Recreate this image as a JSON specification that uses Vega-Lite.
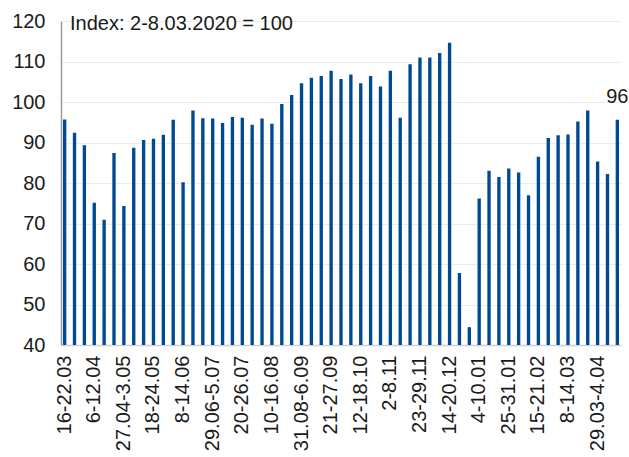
{
  "$schema": "https://vega.github.io/schema/vega-lite/v6.json",
  "autosize": {"type": "none"},
  "width": 560,
  "height": 324,
  "padding": {"left": 61, "top": 21, "right": 8, "bottom": 112},
  "background": "white",
  "config": {
    "view": {"stroke": null},
    "font": "Liberation Sans",
    "title": {"font": "Liberation Sans", "fontSize": 20, "fontWeight": "normal", "color": "#1a1a1a"}
  },
  "title": {"text": "Index: 2-8.03.2020 = 100", "anchor": "start", "frame": "group", "dx": 9, "offset": -39, "baseline": "alphabetic"},
  "data": {"values": [
    {"week": "16-22.03", "value": 95.7},
    {"week": "23-29.03", "value": 92.4},
    {"week": "30.03-5.04", "value": 89.3},
    {"week": "6-12.04", "value": 75.1},
    {"week": "13-19.04", "value": 70.9},
    {"week": "20-26.04", "value": 87.4},
    {"week": "27.04-3.05", "value": 74.3},
    {"week": "4-10.05", "value": 88.7},
    {"week": "11-17.05", "value": 90.6},
    {"week": "18-24.05", "value": 90.9},
    {"week": "25-31.05", "value": 91.9},
    {"week": "1-7.06", "value": 95.6},
    {"week": "8-14.06", "value": 80.2},
    {"week": "15-21.06", "value": 97.9},
    {"week": "22-28.06", "value": 96.0},
    {"week": "29.06-5.07", "value": 95.9},
    {"week": "6-12.07", "value": 94.8},
    {"week": "13-19.07", "value": 96.3},
    {"week": "20-26.07", "value": 96.1},
    {"week": "27.07-2.08", "value": 94.4},
    {"week": "3-9.08", "value": 95.9},
    {"week": "10-16.08", "value": 94.6},
    {"week": "17-23.08", "value": 99.5},
    {"week": "24-30.08", "value": 101.7},
    {"week": "31.08-6.09", "value": 104.6},
    {"week": "7-13.09", "value": 106.0},
    {"week": "14-20.09", "value": 106.4},
    {"week": "21-27.09", "value": 107.7},
    {"week": "28.09-4.10", "value": 105.7},
    {"week": "5-11.10", "value": 106.8},
    {"week": "12-18.10", "value": 104.6},
    {"week": "19-25.10", "value": 106.4},
    {"week": "26.10-1.11", "value": 103.8},
    {"week": "2-8.11", "value": 107.7},
    {"week": "9-15.11", "value": 96.1},
    {"week": "16-22.11", "value": 109.3},
    {"week": "23-29.11", "value": 111.0},
    {"week": "30.11-6.12", "value": 111.0},
    {"week": "7-13.12", "value": 112.1},
    {"week": "14-20.12", "value": 114.6},
    {"week": "21-27.12", "value": 57.8},
    {"week": "28.12-3.01", "value": 44.4},
    {"week": "4-10.01", "value": 76.2},
    {"week": "11-17.01", "value": 83.0},
    {"week": "18-24.01", "value": 81.5},
    {"week": "25-31.01", "value": 83.6},
    {"week": "1-7.02", "value": 82.6},
    {"week": "8-14.02", "value": 77.0},
    {"week": "15-21.02", "value": 86.5},
    {"week": "22-28.02", "value": 91.1},
    {"week": "1-7.03", "value": 91.8},
    {"week": "8-14.03", "value": 92.0},
    {"week": "15-21.03", "value": 95.2},
    {"week": "22-28.03", "value": 97.9},
    {"week": "29.03-4.04", "value": 85.3},
    {"week": "5-11.04", "value": 82.2},
    {"week": "12-18.04", "value": 95.6, "label": "96"}
  ]},
  "encoding": {
    "x": {
      "field": "week", "type": "ordinal", "sort": null,
      "scale": {"paddingInner": 0.66, "paddingOuter": 0.2},
      "axis": {
        "title": null,
        "values": ["16-22.03", "6-12.04", "27.04-3.05", "18-24.05", "8-14.06", "29.06-5.07", "20-26.07", "10-16.08", "31.08-6.09", "21-27.09", "12-18.10", "2-8.11", "23-29.11", "14-20.12", "4-10.01", "25-31.01", "15-21.02", "8-14.03", "29.03-4.04"],
        "labelAngle": -90, "labelAlign": "right", "labelBaseline": "middle",
        "labelFontSize": 20, "labelColor": "#1a1a1a", "labelPadding": 10,
        "ticks": false, "domainColor": "#d0d0d0", "domainWidth": 1.5, "labelOverlap": false
      }
    },
    "y": {
      "field": "value", "type": "quantitative",
      "scale": {"domain": [40, 120], "nice": false, "zero": false},
      "axis": {
        "title": null, "values": [40, 50, 60, 70, 80, 90, 100, 110, 120],
        "labelFontSize": 20, "labelColor": "#1a1a1a", "labelPadding": 16,
        "ticks": false, "domainColor": "#9a9a9a", "domainWidth": 1.5,
        "gridColor": "#ececec", "gridWidth": 1
      }
    }
  },
  "layer": [
    {"mark": {"type": "bar", "color": "#004a94", "clip": true}},
    {
      "transform": [{"filter": "datum.label != null"}],
      "mark": {"type": "text", "baseline": "bottom", "dy": -13, "fontSize": 20, "color": "#1a1a1a", "font": "Liberation Sans"},
      "encoding": {"text": {"field": "label"}}
    }
  ]
}
